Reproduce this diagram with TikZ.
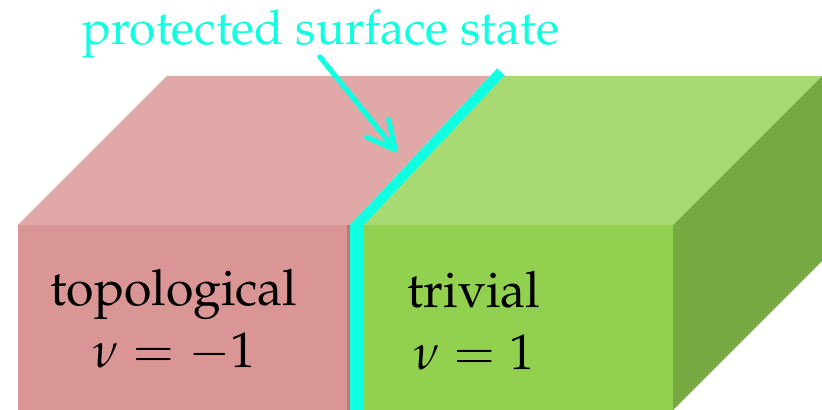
\documentclass[tikz,border=0pt]{standalone}
\usepackage[T1]{fontenc}
\usepackage{mathpazo}
\usetikzlibrary{arrows.meta}

\definecolor{topofront}{HTML}{D99694}
\definecolor{topotop}{HTML}{E0A9A8}
\definecolor{topoedge}{HTML}{B97B79}
\definecolor{trivfront}{HTML}{92D050}
\definecolor{trivtop}{HTML}{A8D973}
\definecolor{trivside}{HTML}{77A841}
\definecolor{surfcyan}{HTML}{10FFE0}

\tikzset{
  label text/.style={font=\fontsize{25}{31}\selectfont, align=center},
  title text/.style={font=\fontsize{24}{28}\selectfont, surfcyan},
  state arrow/.style={surfcyan, line width=2.6pt, line cap=round,
    -{Straight Barb[length=14pt, width=14pt, round]}}
}

\begin{document}
\begin{tikzpicture}[x=0.5pt, y=0.5pt]
    \useasboundingbox (0,0) rectangle (822,410);

    % Topological block
    \fill[topofront] (18,0) rectangle (350,185);
    \fill[topotop] (18,185) -- (350,185) -- (490,334) -- (167,334) -- cycle;
    \draw[topoedge, line width=1.5pt] (348.5,0) -- (348.5,185);

    % Trivial block
    \fill[trivfront] (364,0) rectangle (673,185);
    \fill[trivtop] (364,185) -- (673,185) -- (822,334) -- (504,334) -- cycle;
    \fill[trivside] (673,0) -- (822,149) -- (822,334) -- (673,185) -- cycle;

    % Surface state
    \fill[surfcyan] (350,0) -- (364,0) -- (364,185) -- (504.6,334.6)
        -- (497.2,341.6) -- (350,185) -- cycle;

    % Labels
    \node[label text] (topo) at (174,89) {topological\\$\nu=-1$};
    \node[label text] (triv) at (474,89) {trivial\\$\nu=1$};
    \node[title text, anchor=base] (state) at (321,365) {protected surface state};

    % Arrow to the surface
    \coordinate (tail) at (320,353);
    \coordinate (tip) at (397,258);
    \draw[state arrow] (tail) -- (tip);
\end{tikzpicture}
\end{document}
